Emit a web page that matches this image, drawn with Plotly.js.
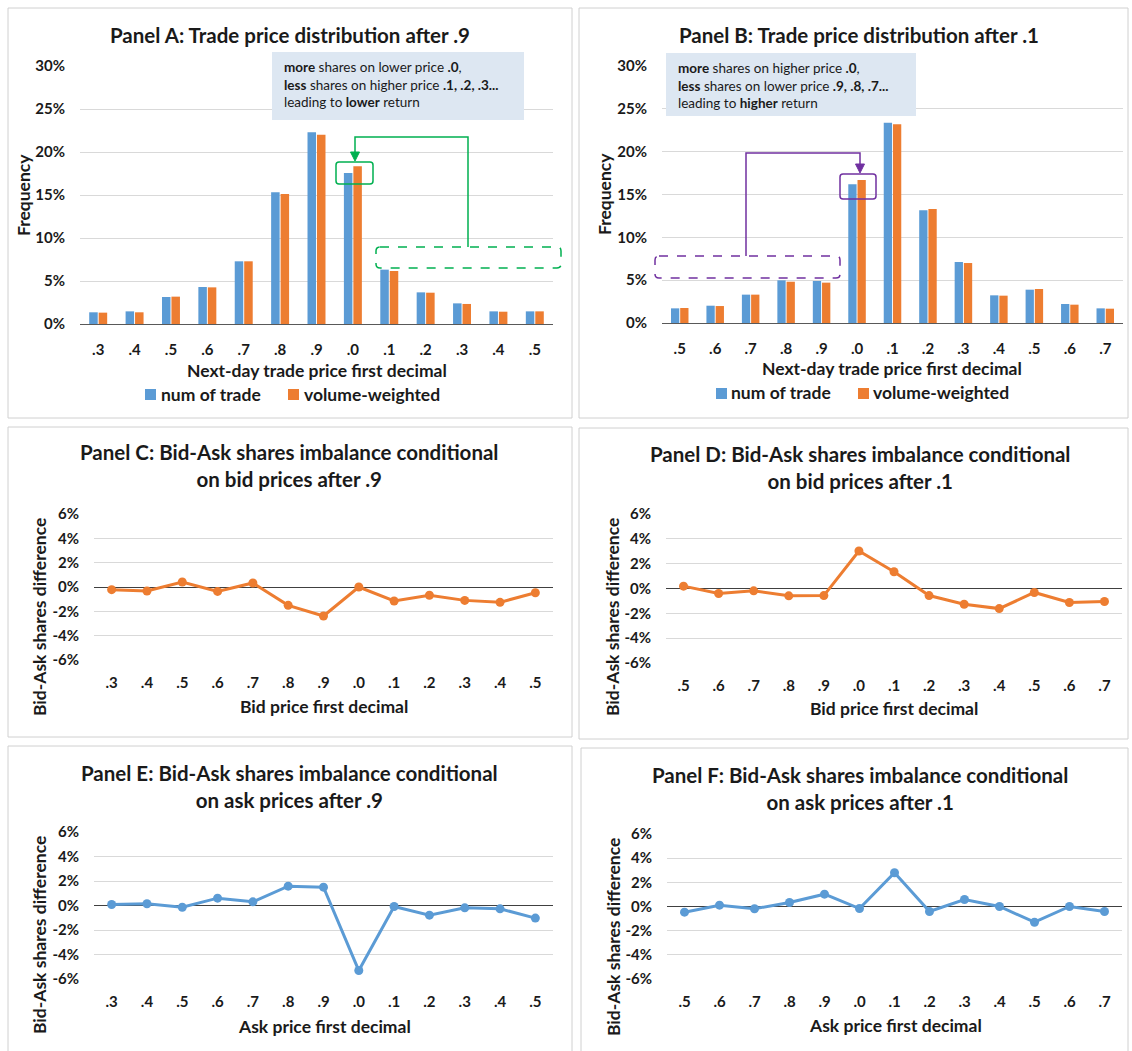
<!DOCTYPE html>
<html>
<head>
<meta charset="utf-8">
<script src="https://cdn.plot.ly/plotly-3.0.1.min.js"></script>
<style>html,body{margin:0;padding:0;background:#fff}</style>
</head>
<body>
<div id="chart" style="width:1132px;height:1051px"></div>
<script>
// ---- data (percent) ----
const labelsA = ['.3','.4','.5','.6','.7','.8','.9','.0','.1','.2','.3','.4','.5'];
const labelsB = ['.5','.6','.7','.8','.9','.0','.1','.2','.3','.4','.5','.6','.7'];

const tradeAfter9Count  = [1.36,1.47,3.14,4.30,7.29,15.31,22.29,17.56,6.32,3.68,2.40,1.47,1.47];
const tradeAfter9Volume = [1.32,1.36,3.18,4.26,7.29,15.12,22.02,18.33,6.16,3.64,2.33,1.43,1.47];
const tradeAfter1Count  = [1.71,2.02,3.31,4.98,4.90,16.19,23.39,13.15,7.12,3.23,3.89,2.22,1.71];
const tradeAfter1Volume = [1.75,1.98,3.31,4.82,4.71,16.69,23.19,13.31,7.00,3.19,3.97,2.14,1.67];

const bidAfter9 = [-0.22,-0.33,0.41,-0.36,0.33,-1.51,-2.38,0.00,-1.15,-0.68,-1.10,-1.26,-0.47];
const bidAfter1 = [0.19,-0.40,-0.19,-0.59,-0.57,3.02,1.35,-0.57,-1.27,-1.62,-0.32,-1.13,-1.05];
const askAfter9 = [0.08,0.14,-0.14,0.60,0.30,1.58,1.50,-5.31,-0.08,-0.79,-0.19,-0.27,-1.03];
const askAfter1 = [-0.47,0.11,-0.19,0.33,1.02,-0.17,2.79,-0.41,0.58,0.00,-1.30,0.00,-0.41];

const freqTicks = [0, 5, 10, 15, 20, 25, 30];
const diffTicks = [-6, -4, -2, 0, 2, 4, 6];
const seriesNames = ['num of trade', 'volume-weighted'];

// ---- helpers: pixel positions -> paper fractions ----
const W = 1132, H = 1051;
const PX = v => v / W;
const PY = v => 1 - v / H;
const xdom = (a, b) => [PX(a), PX(b)];
const ydom = (top, bot) => [PY(bot), PY(top)];

const FONT = 'Lato, "Open Sans", "DejaVu Sans", sans-serif';
const BLUE = '#5b9bd5', ORANGE = '#ed7d31';
const GREEN = '#00b050', PURPLE = '#7030a0';
const GRID = '#d9d9d9', TXT = '#1a1a1a';
const idxA = labelsA.map((_, i) => i);
const idxB = labelsB.map((_, i) => i);

function catAxis(dom, anchor, labels, idx, bar) {
  return {
    domain: dom, anchor: anchor, range: [-0.5, 12.5],
    tickmode: 'array', tickvals: idx, ticktext: labels,
    showgrid: false, zeroline: false, ticks: '',
    showline: bar, linecolor: '#595959', linewidth: 1,
    tickfont: {family: FONT, size: 15, color: TXT, weight: 700},
    ticklabelstandoff: 12, fixedrange: true
  };
}
function valAxis(dom, anchor, range, vals) {
  return {
    domain: dom, anchor: anchor, range: range,
    tickmode: 'array', tickvals: vals, ticktext: vals.map(v => v + '%'),
    showgrid: true, gridcolor: GRID, gridwidth: 1,
    zeroline: range[0] < 0, zerolinecolor: '#404040', zerolinewidth: 1,
    showline: false, ticks: '',
    tickfont: {family: FONT, size: 15, color: TXT, weight: 700},
    ticklabelstandoff: 14, fixedrange: true
  };
}

function bars(x, y, color, name, xa, ya) {
  return {type: 'bar', x: x, y: y, name: name, marker: {color: color}, xaxis: xa, yaxis: ya, showlegend: false};
}
function line(x, y, color, xa, ya) {
  return {type: 'scatter', mode: 'lines+markers', x: x, y: y, line: {color: color, width: 3},
          marker: {color: color, size: 9}, xaxis: xa, yaxis: ya, showlegend: false};
}

const traces = [
  bars(idxA, tradeAfter9Count, BLUE, seriesNames[0], 'x', 'y'),
  bars(idxA, tradeAfter9Volume, ORANGE, seriesNames[1], 'x', 'y'),
  bars(idxB, tradeAfter1Count, BLUE, seriesNames[0], 'x2', 'y2'),
  bars(idxB, tradeAfter1Volume, ORANGE, seriesNames[1], 'x2', 'y2'),
  line(idxA, bidAfter9, ORANGE, 'x3', 'y3'),
  line(idxB, bidAfter1, ORANGE, 'x4', 'y4'),
  line(idxA, askAfter9, BLUE, 'x5', 'y5'),
  line(idxB, askAfter1, BLUE, 'x6', 'y6')
];

// panel frames
function frame(x0, y0, x1, y1) {
  return {type: 'rect', xref: 'paper', yref: 'paper', x0: PX(x0), x1: PX(x1), y0: PY(y0), y1: PY(y1),
          line: {color: '#d0d0d0', width: 1}, fillcolor: 'rgba(0,0,0,0)', layer: 'below'};
}
// rounded rectangle as a path
function rrect(x0, y0, x1, y1, r, color, dash) {
  const p = (x, y) => PX(x) + ',' + PY(y);
  const d = 'M' + p(x0 + r, y0) + ' L' + p(x1 - r, y0) + ' Q' + p(x1, y0) + ' ' + p(x1, y0 + r) +
            ' L' + p(x1, y1 - r) + ' Q' + p(x1, y1) + ' ' + p(x1 - r, y1) +
            ' L' + p(x0 + r, y1) + ' Q' + p(x0, y1) + ' ' + p(x0, y1 - r) +
            ' L' + p(x0, y0 + r) + ' Q' + p(x0, y0) + ' ' + p(x0 + r, y0) + ' Z';
  return {type: 'path', xref: 'paper', yref: 'paper', path: d, line: {color: color, width: 1.5, dash: dash || 'solid'}};
}
function poly(pts, color) {
  const d = 'M' + pts.map(q => PX(q[0]) + ',' + PY(q[1])).join(' L');
  return {type: 'path', xref: 'paper', yref: 'paper', path: d, line: {color: color, width: 1.5}};
}
function head(x, y, color) {
  const d = 'M' + PX(x - 4.5) + ',' + PY(y - 9) + ' L' + PX(x + 4.5) + ',' + PY(y - 9) + ' L' + PX(x) + ',' + PY(y) + ' Z';
  return {type: 'path', xref: 'paper', yref: 'paper', path: d, fillcolor: color, line: {color: color, width: 1}};
}
function box(x0, y0, x1, y1, color) {
  return {type: 'rect', xref: 'paper', yref: 'paper', x0: PX(x0), x1: PX(x1), y0: PY(y0), y1: PY(y1),
          line: {width: 0}, fillcolor: color, layer: 'above'};
}

const shapes = [
  frame(8, 8, 572, 418), frame(579, 8, 1128, 418),
  frame(8, 427, 572, 737), frame(579, 428, 1128, 739),
  frame(8, 746, 572, 1056), frame(581, 748, 1128, 1056),
  box(272, 52, 524, 120, '#dde7f2'), box(666, 53, 916, 116, '#dde7f2'),
  // legend swatches
  box(145, 389, 156, 400, BLUE), box(288, 389, 299, 400, ORANGE),
  box(716, 388, 727, 399, BLUE), box(858, 388, 869, 399, ORANGE),
  // Panel A highlight: volume moves from the higher decimals to .0
  rrect(336, 162, 373, 184, 3, GREEN),
  rrect(376, 247, 561, 268, 4, GREEN, 'dash'),
  poly([[468, 247], [468, 137], [355, 137], [355, 152]], GREEN),
  head(355, 161, GREEN),
  // Panel B highlight: volume moves from the lower decimals to .0
  rrect(840, 174, 876, 199, 3, PURPLE),
  rrect(655, 256, 840, 278, 4, PURPLE, 'dash'),
  poly([[746, 256], [746, 153], [860, 153], [860, 164]], PURPLE),
  head(860, 173, PURPLE)
];

function txt(text, x, y, size, opts) {
  return Object.assign({
    text: text, xref: 'paper', yref: 'paper', x: PX(x), y: PY(y),
    xanchor: 'center', yanchor: 'middle', showarrow: false,
    font: {family: FONT, size: size, color: TXT, weight: 700}
  }, opts || {});
}
const noteFont = {family: FONT, size: 13.5, color: TXT, weight: 400};
const left = {xanchor: 'left'};
const annotations = [
  txt('Panel A: Trade price distribution after .9', 290, 35, 20.5),
  txt('Panel B: Trade price distribution after .1', 859, 35, 20.5),
  txt('Panel C: Bid-Ask shares imbalance conditional<br>on bid prices after .9', 289, 466, 20.5),
  txt('Panel D: Bid-Ask shares imbalance conditional<br>on bid prices after .1', 860, 467, 20.5),
  txt('Panel E: Bid-Ask shares imbalance conditional<br>on ask prices after .9', 289, 786, 20.5),
  txt('Panel F: Bid-Ask shares imbalance conditional<br>on ask prices after .1', 860, 788, 20.5),

  txt('Next-day trade price first decimal', 317, 370, 17.5),
  txt('Next-day trade price first decimal', 892, 369, 17.5),
  txt('Bid price first decimal', 324, 706, 17.5),
  txt('Bid price first decimal', 894, 708, 17.5),
  txt('Ask price first decimal', 324, 1026, 17.5),
  txt('Ask price first decimal', 895, 1025, 17.5),

  txt('Frequency', 23, 195, 17.5, {textangle: -90}),
  txt('Frequency', 604, 194, 17.5, {textangle: -90}),
  txt('Bid-Ask shares difference', 39, 617, 17.5, {textangle: -90}),
  txt('Bid-Ask shares difference', 612, 617, 17.5, {textangle: -90}),
  txt('Bid-Ask shares difference', 39, 935, 17.5, {textangle: -90}),
  txt('Bid-Ask shares difference', 613, 937, 17.5, {textangle: -90}),

  txt(seriesNames[0], 159, 394, 17.5, left),
  txt(seriesNames[1], 302, 394, 17.5, left),
  txt(seriesNames[0], 729, 393, 17.5, left),
  txt(seriesNames[1], 871, 393, 17.5, left),

  txt('<b>more</b> shares on lower price <b>.0</b>,<br><b>less</b> shares on higher price <b>.1, .2, .3...</b><br>leading to <b>lower</b> return',
      282, 57, 13.5, {xanchor: 'left', yanchor: 'top', align: 'left', font: noteFont}),
  txt('<b>more</b> shares on higher price <b>.0</b>,<br><b>less</b> shares on lower price <b>.9, .8, .7...</b><br>leading to <b>higher</b> return',
      676, 58, 13.5, {xanchor: 'left', yanchor: 'top', align: 'left', font: noteFont})
];

const layout = {
  width: W, height: H, margin: {l: 0, r: 0, t: 0, b: 0},
  paper_bgcolor: '#fff', plot_bgcolor: 'rgba(0,0,0,0)',
  barmode: 'group', bargap: 0.48, bargroupgap: 0.1,
  font: {family: FONT, color: TXT},
  showlegend: false,
  xaxis:  catAxis(xdom(80, 553), 'y', labelsA, idxA, true),
  yaxis:  valAxis(ydom(66, 324), 'x', [0, 30], freqTicks),
  xaxis2: catAxis(xdom(662, 1123), 'y2', labelsB, idxB, true),
  yaxis2: valAxis(ydom(66, 323), 'x2', [0, 30], freqTicks),
  xaxis3: catAxis(xdom(94, 553), 'y3', labelsA, idxA, false),
  yaxis3: valAxis(ydom(514, 660), 'x3', [-6, 6], diffTicks),
  xaxis4: catAxis(xdom(666, 1122), 'y4', labelsB, idxB, false),
  yaxis4: valAxis(ydom(514, 663), 'x4', [-6, 6], diffTicks),
  xaxis5: catAxis(xdom(94, 553), 'y5', labelsA, idxA, false),
  yaxis5: valAxis(ydom(832, 979), 'x5', [-6, 6], diffTicks),
  xaxis6: catAxis(xdom(667, 1122), 'y6', labelsB, idxB, false),
  yaxis6: valAxis(ydom(834, 979), 'x6', [-6, 6], diffTicks),
  shapes: shapes,
  annotations: annotations
};

Plotly.newPlot('chart', traces, layout, {staticPlot: true, displayModeBar: false});
</script>
</body>
</html>
